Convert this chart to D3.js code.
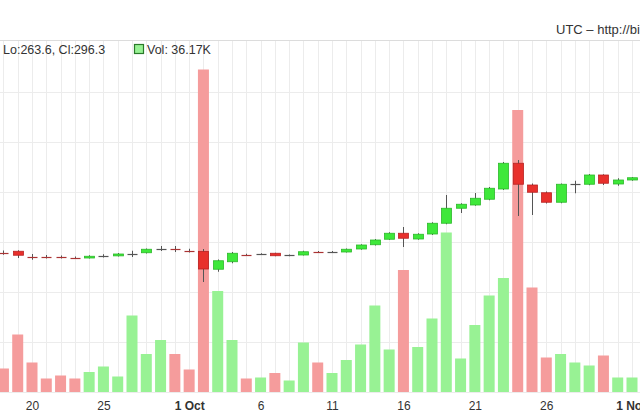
<!DOCTYPE html>
<html><head><meta charset="utf-8">
<script src="https://cdn.jsdelivr.net/npm/d3@7"></script>
<style>
html,body{margin:0;padding:0;background:#fff;}
svg{display:block;font-family:Arial,"Liberation Sans",sans-serif;}
</style></head>
<body>
<svg id="chart" width="640" height="420"></svg>
<script>
// ---- data ----
const dates = ["2013-09-18","2013-09-19","2013-09-20","2013-09-21","2013-09-22","2013-09-23","2013-09-24","2013-09-25","2013-09-26","2013-09-27","2013-09-28","2013-09-29","2013-09-30","2013-10-01","2013-10-02","2013-10-03","2013-10-04","2013-10-05","2013-10-06","2013-10-07","2013-10-08","2013-10-09","2013-10-10","2013-10-11","2013-10-12","2013-10-13","2013-10-14","2013-10-15","2013-10-16","2013-10-17","2013-10-18","2013-10-19","2013-10-20","2013-10-21","2013-10-22","2013-10-23","2013-10-24","2013-10-25","2013-10-26","2013-10-27","2013-10-28","2013-10-29","2013-10-30","2013-10-31","2013-11-01"];
const opens  = [131.5,132.6,128.4,128.2,128.0,127.5,127.2,128.6,128.9,130.6,131.4,134.6,134.6,133.7,132.5,118.2,124.2,130.0,130.2,131.0,129.2,129.6,132.3,132.0,132.0,134.4,137.8,142.2,147.0,142.4,146.4,155.0,167.0,169.6,174.2,182.4,203.0,185.6,179.4,171.8,186.0,186.2,193.6,186.4,189.6];
const highs  = [133.2,133.4,130.4,129.6,129.2,128.4,129.4,130.2,131.2,133.0,134.8,136.8,136.8,134.6,134.4,126.0,132.0,130.6,131.0,131.4,130.0,133.0,132.8,132.8,134.8,138.2,142.4,147.8,152.0,147.0,155.8,177.6,171.0,179.2,184.0,204.0,205.6,186.8,180.4,186.8,189.0,194.4,194.2,191.0,192.0];
const lows   = [129.8,127.2,125.8,126.8,126.8,126.4,126.8,127.6,128.4,128.0,130.8,132.8,132.0,131.6,108.0,116.2,123.0,129.0,129.6,128.6,128.6,129.2,131.6,131.4,131.6,133.8,137.2,141.6,136.0,141.8,145.6,154.2,163.2,169.0,173.4,181.6,160.8,161.6,170.8,171.0,179.0,185.4,185.6,185.0,189.0];
const closes = [131.3,129.4,128.2,128.0,127.9,127.3,128.6,128.9,130.4,130.9,134.2,134.9,134.3,132.5,118.4,125.0,131.0,129.6,130.5,129.0,129.5,132.2,132.1,132.2,134.2,137.6,141.6,147.0,143.0,146.2,155.0,167.0,170.2,175.0,183.0,203.0,186.2,179.8,171.8,186.2,186.3,193.6,187.0,189.6,191.4];
const volumesK = [4.7,11.5,5.9,2.7,3.3,2.7,4.0,5.1,3.1,15.3,7.6,10.4,7.6,4.5,64.5,20.2,10.4,2.7,2.9,3.8,2.3,9.9,5.9,3.8,6.4,9.5,17.3,8.5,24.4,9.0,14.7,31.9,6.7,13.4,19.3,22.8,56.4,20.9,6.9,7.6,5.9,5.3,7.3,2.9,2.9];
const tickDates  = ["2013-09-20","2013-09-25","2013-10-01","2013-10-06","2013-10-11","2013-10-16","2013-10-21","2013-10-26","2013-11-01"];
const tickLabels = ["20","25","1 Oct","6","11","16","21","26","1 Nov"];
const legendText = "Lo:263.6, Cl:296.3";
const volLegend = "Vol: 36.17K";
const topRightText = "UTC \u2013 http://bi";
const priceGrid = [20,60,100,140,180,220,260];

// ---- layout ----
const svg = d3.select("#chart");
const W = 640, H = 420;
const plotTop = 40, plotBottom = 392;
const parse = d3.utcParse("%Y-%m-%d");
const data = dates.map((d,i)=>({date:parse(d),o:opens[i],h:highs[i],l:lows[i],c:closes[i],v:volumesK[i]}));

const x = d3.scaleUtc().domain([parse("2013-09-20"), parse("2013-11-01")]).range([32, 632]);
const yP = d3.scaleLinear().domain([20, 301.6]).range([plotBottom, plotTop]);
const yV = d3.scaleLinear().domain([0, 70.4]).range([plotBottom, plotTop]);
const bw = 10;

// background
svg.append("rect").attr("width",W).attr("height",H).attr("fill","#fff");

// grid: vertical per day
const allDays = d3.utcDay.range(parse("2013-09-17"), parse("2013-11-03"));
svg.append("g").selectAll("line").data(allDays).join("line")
  .attr("x1",d=>Math.round(x(d))+0.5).attr("x2",d=>Math.round(x(d))+0.5)
  .attr("y1",plotTop).attr("y2",plotBottom)
  .attr("stroke","#ececec").attr("stroke-width",1);
// horizontal grid
svg.append("g").selectAll("line").data(priceGrid).join("line")
  .attr("x1",0).attr("x2",W)
  .attr("y1",d=>Math.round(yP(d))+0.5).attr("y2",d=>Math.round(yP(d))+0.5)
  .attr("stroke","#ececec").attr("stroke-width",1);
// top border
svg.append("line").attr("x1",0).attr("x2",W).attr("y1",plotTop+0.5).attr("y2",plotTop+0.5)
  .attr("stroke","#dcdcdc").attr("stroke-width",1);

// volume bars
svg.append("g").selectAll("rect").data(data).join("rect")
  .attr("x",d=>x(d.date)-bw/2-0.5).attr("width",bw+1)
  .attr("y",d=>yV(d.v)).attr("height",d=>plotBottom-yV(d.v))
  .attr("fill",d=>d.c>=d.o ? "#98f294" : "#f59c9c");

// candles
const cg = svg.append("g");
const isDoji = d => Math.abs(yP(d.o)-yP(d.c)) < 1.6;
cg.selectAll("line.wick").data(data).join("line").attr("class","wick")
  .attr("x1",d=>Math.round(x(d.date))+0.5).attr("x2",d=>Math.round(x(d.date))+0.5)
  .attr("y1",d=>yP(d.h)).attr("y2",d=>yP(d.l))
  .attr("stroke","#555").attr("stroke-width",1);
cg.selectAll("rect.body").data(data.filter(d=>!isDoji(d))).join("rect").attr("class","body")
  .attr("x",d=>Math.round(x(d.date))-bw/2+0.5).attr("width",bw)
  .attr("y",d=>yP(Math.max(d.o,d.c))).attr("height",d=>Math.abs(yP(d.o)-yP(d.c)))
  .attr("fill",d=>d.c>=d.o ? "#3ee83a" : "#e8302c")
  .attr("stroke",d=>d.c>=d.o ? "#2cb82a" : "#b82222").attr("stroke-width",0.8);
cg.selectAll("line.doji").data(data.filter(isDoji)).join("line").attr("class","doji")
  .attr("x1",d=>Math.round(x(d.date))-bw/2+0.5).attr("x2",d=>Math.round(x(d.date))+bw/2+0.5)
  .attr("y1",d=>Math.round(yP((d.o+d.c)/2))+0.5).attr("y2",d=>Math.round(yP((d.o+d.c)/2))+0.5)
  .attr("stroke",d=>d.c>=d.o ? "#555" : "#a33").attr("stroke-width",1.2);

// x axis labels
const xAxis = d3.axisBottom(x)
  .tickValues(tickDates.map(parse))
  .tickFormat((d,i)=>tickLabels[i])
  .tickSize(0).tickPadding(9);
const ax = svg.append("g").attr("transform",`translate(0,${plotBottom})`).call(xAxis);
ax.select(".domain").remove();
ax.selectAll("text").attr("font-size",12).attr("fill","#333")
  .attr("font-family","Arial, 'Liberation Sans', sans-serif")
  .attr("font-weight",(d,i)=>tickLabels[i].length>2?"bold":"normal");

// legend row
svg.append("text").attr("x",3).attr("y",54).attr("font-size",12.5).attr("fill","#333").text(legendText);
svg.append("rect").attr("x",134.5).attr("y",44.5).attr("width",9).attr("height",9)
  .attr("fill","#98f294").attr("stroke","#2a7a2a").attr("stroke-width",1.2);
svg.append("text").attr("x",147).attr("y",54).attr("font-size",12.5).attr("fill","#333").text(volLegend);

// top right
svg.append("text").attr("x",556).attr("y",34).attr("font-size",13).attr("fill","#333").text(topRightText);
</script>
</body></html>
